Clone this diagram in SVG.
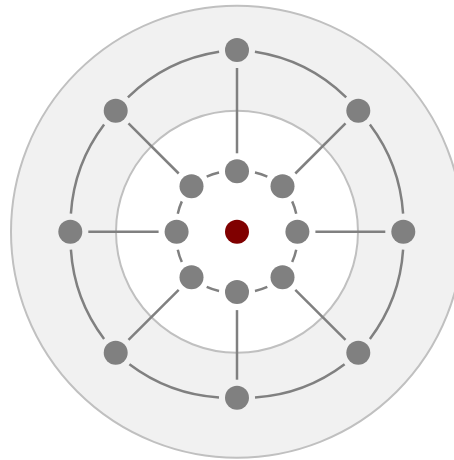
<svg xmlns="http://www.w3.org/2000/svg" width="454" height="460" viewBox="0 0 454 460">
<style>
.bg{fill:#f1f1f1;stroke:#c0c0c0;stroke-width:2}
.inner{fill:#ffffff;stroke:#c0c0c0;stroke-width:2}
.edge{fill:none;stroke:#808080;stroke-width:2.5}
.node{fill:#808080}
.core{fill:#800000}
</style>
<rect width="454" height="460" fill="#ffffff"/>
<circle class="bg" cx="237" cy="231.7" r="226"/>
<circle class="inner" cx="237" cy="231.7" r="121"/>
<g id="connectors">
<path class="edge" d="M254.9,51.8 A166,166 0 0 1 346.2,97.4"/>
<path class="edge" d="M369.9,124.5 A166,166 0 0 1 403.1,213.7"/>
<path class="edge" d="M403.1,249.7 A166,166 0 0 1 369.9,339"/>
<path class="edge" d="M344.6,364.3 A166,166 0 0 1 255,397.5"/>
<path class="edge" d="M219,397.5 A166,166 0 0 1 129.4,364.3"/>
<path class="edge" d="M104.1,339 A166,166 0 0 1 70.9,249.7"/>
<path class="edge" d="M70.9,213.7 A166,166 0 0 1 104.1,124.5"/>
<path class="edge" d="M127.9,97.4 A166,166 0 0 1 219.1,51.8"/>
<path class="edge" d="M254.96,172.48 A62,62 0 0 1 267.32,176.53"/>
<path class="edge" d="M292.17,201.38 A62,62 0 0 1 296.22,213.74"/>
<path class="edge" d="M296.22,249.66 A62,62 0 0 1 292.17,262.02"/>
<path class="edge" d="M267.32,286.87 A62,62 0 0 1 254.96,290.92"/>
<path class="edge" d="M219.04,290.92 A62,62 0 0 1 206.68,286.87"/>
<path class="edge" d="M181.83,262.02 A62,62 0 0 1 177.78,249.66"/>
<path class="edge" d="M177.78,213.74 A62,62 0 0 1 181.83,201.38"/>
<path class="edge" d="M206.68,176.53 A62,62 0 0 1 219.04,172.48"/>
<line class="edge" x1="237" y1="68" x2="237" y2="153.3"/>
<line class="edge" x1="385.3" y1="231.7" x2="315.4" y2="231.7"/>
<line class="edge" x1="237" y1="379.7" x2="237" y2="310.1"/>
<line class="edge" x1="88.3" y1="231.7" x2="158.6" y2="231.7"/>
<line class="edge" x1="128.5" y1="123.4" x2="178.7" y2="173.5"/>
<line class="edge" x1="345.5" y1="123.4" x2="295.3" y2="173.5"/>
<line class="edge" x1="345.5" y1="339.9" x2="295.3" y2="289.9"/>
<line class="edge" x1="128.5" y1="339.9" x2="178.7" y2="289.9"/>
</g>
<g id="center"><circle class="core" cx="237" cy="231.7" r="12"/></g>
<g id="inner-0"><circle class="node" cx="237" cy="171.3" r="12"/></g>
<g id="inner-1"><circle class="node" cx="282.5" cy="186.2" r="12"/></g>
<g id="inner-2"><circle class="node" cx="297.4" cy="231.7" r="12"/></g>
<g id="inner-3"><circle class="node" cx="282.5" cy="277.2" r="12"/></g>
<g id="inner-4"><circle class="node" cx="237" cy="292.1" r="12"/></g>
<g id="inner-5"><circle class="node" cx="191.5" cy="277.2" r="12"/></g>
<g id="inner-6"><circle class="node" cx="176.6" cy="231.7" r="12"/></g>
<g id="inner-7"><circle class="node" cx="191.5" cy="186.2" r="12"/></g>
<g id="outer-0"><circle class="node" cx="237" cy="50" r="12"/></g>
<g id="outer-1"><circle class="node" cx="358.3" cy="110.7" r="12"/></g>
<g id="outer-2"><circle class="node" cx="403.3" cy="231.7" r="12"/></g>
<g id="outer-3"><circle class="node" cx="358.3" cy="352.7" r="12"/></g>
<g id="outer-4"><circle class="node" cx="237" cy="397.7" r="12"/></g>
<g id="outer-5"><circle class="node" cx="115.7" cy="352.7" r="12"/></g>
<g id="outer-6"><circle class="node" cx="70.3" cy="231.7" r="12"/></g>
<g id="outer-7"><circle class="node" cx="115.7" cy="110.7" r="12"/></g>
</svg>
